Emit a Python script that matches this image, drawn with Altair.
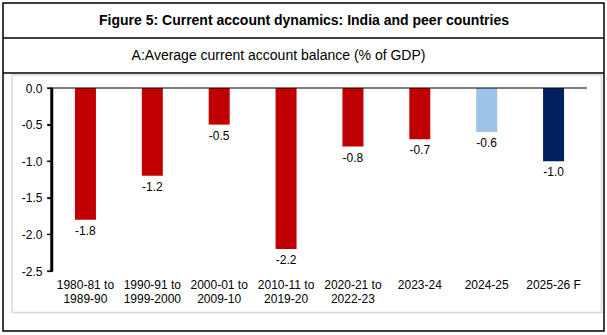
import altair as alt
import pandas as pd

categories = ["1980-81 to 1989-90", "1990-91 to 1999-2000", "2000-01 to 2009-10",
              "2010-11 to 2019-20", "2020-21 to 2022-23", "2023-24", "2024-25", "2025-26 F"]
values = [-1.8, -1.2, -0.5, -2.2, -0.8, -0.7, -0.6, -1.0]
colors = ["#C00000", "#C00000", "#C00000", "#C00000", "#C00000", "#C00000", "#9DC3E6", "#002060"]
y_ticks = [0.0, -0.5, -1.0, -1.5, -2.0, -2.5]
title1 = "Figure 5: Current account dynamics: India and peer countries"
title2 = "A:Average current account balance (% of GDP)"

df = pd.DataFrame({"cat": categories, "val": values, "color": colors})
df["lab"] = [f"{v:.1f}" for v in values]
zero_df = pd.DataFrame({"val": [0.0]})
tick_df = pd.DataFrame({"val": y_ticks})

W, H = 535, 183
L, T = 52, 88
FONT = "Liberation Sans"

label_expr = ("indexof(datum.label,' to ')>0 ? "
              "[slice(datum.label,0,indexof(datum.label,' to ')+3), "
              "slice(datum.label,indexof(datum.label,' to ')+4)] : datum.label")

xaxis = alt.Axis(domain=False, ticks=False, labelAngle=0, labelExpr=label_expr,
                 labelFont=FONT, labelFontSize=12, labelColor="black",
                 labelPadding=8, labelLineHeight=14, labelBaseline="top")
xscale = alt.Scale(paddingInner=0.685, paddingOuter=0.3425)
yaxis = alt.Axis(values=y_ticks, labelExpr="replace(format(datum.value,'.1f'),'−','-')",
                 grid=False, domain=True, domainColor="black", domainWidth=1.5,
                 ticks=True, tickColor="black", tickSize=5, tickWidth=1.2,
                 labelFont=FONT, labelFontSize=12,
                 labelColor="black", labelPadding=5, labelOverlap=False,
                 labelBound=False, labelFlush=False)
yscale = alt.Scale(domain=[-2.5, 0], nice=False, zero=False)

xenc = alt.X("cat:N", sort=categories, title=None, scale=xscale, axis=xaxis)
yenc = alt.Y("val:Q", title=None, scale=yscale, axis=yaxis)

bars = alt.Chart(df).mark_bar(size=21).encode(
    x=xenc, y=yenc, y2=alt.Y2(datum=0),
    color=alt.Color("color:N", scale=None, legend=None))

labels = alt.Chart(df).mark_text(font=FONT, fontSize=12, color="black", baseline="top", dy=6).encode(
    x=xenc, y=yenc, text="lab:N")

zero_rule = alt.Chart(zero_df).mark_rule(color="black", strokeWidth=1.2).encode(
    x=alt.value(-1), x2=alt.value(W), y=yenc)

# y-axis line and tick marks drawn as filled rects / rules
y_line = alt.Chart(zero_df).mark_rect(fill="#000000", stroke="#000000", strokeWidth=0.5).encode(
    x=alt.value(-1.5), x2=alt.value(0.5), y=alt.value(0), y2=alt.value(H))
y_tickmarks = alt.Chart(tick_df).mark_rule(stroke="#000000", strokeWidth=1.2).encode(
    x=alt.value(-5), x2=alt.value(0), y=yenc)

deco = pd.DataFrame({"k": [0]})
outer = alt.Chart(deco).mark_rect(fill="transparent", stroke="black", strokeWidth=1.5).encode(
    x=alt.value(3 - L), x2=alt.value(604 - L), y=alt.value(3 - T), y2=alt.value(331 - T))
inner = alt.Chart(deco).mark_rect(fill="transparent", stroke="#D9D9D9", strokeWidth=1.5).encode(
    x=alt.value(12 - L), x2=alt.value(601.5 - L), y=alt.value(75 - T), y2=alt.value(312.5 - T))
line1 = alt.Chart(deco).mark_rule(color="black", strokeWidth=1.5).encode(
    x=alt.value(3 - L), x2=alt.value(604 - L), y=alt.value(38 - T))
line2 = alt.Chart(deco).mark_rule(color="black", strokeWidth=1.5).encode(
    x=alt.value(3 - L), x2=alt.value(604 - L), y=alt.value(73 - T))
t1 = alt.Chart(deco).mark_text(font=FONT, fontSize=14, fontWeight="bold", color="black",
                               align="center", baseline="middle").encode(
    x=alt.value(304 - L), y=alt.value(21 - T), text=alt.value(title1))
t2 = alt.Chart(deco).mark_text(font=FONT, fontSize=14, color="black",
                               align="center", baseline="middle").encode(
    x=alt.value(278.5 - L), y=alt.value(56 - T), text=alt.value(title2))

chart = alt.layer(outer, inner, line1, line2, t1, t2, bars, zero_rule, y_line, y_tickmarks,
                  labels).properties(
    width=W, height=H,
    autosize=alt.AutoSizeParams(type="none"),
    padding={"left": L, "top": T, "right": 607 - L - W, "bottom": 335 - T - H},
    background="white",
).configure_view(stroke=None)

chart.save("out.html", embed_options={"renderer": "svg", "actions": False})
